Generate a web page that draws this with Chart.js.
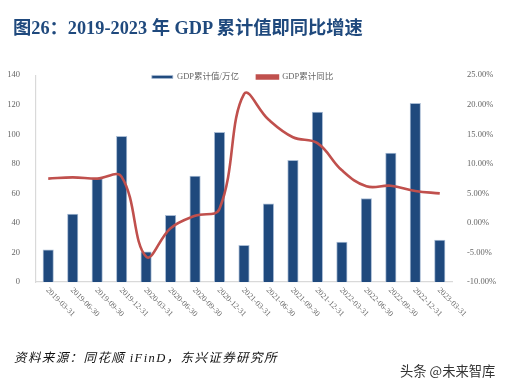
<!DOCTYPE html>
<html>
<head>
<meta charset="utf-8">
<script src="https://cdn.jsdelivr.net/npm/chart.js@4/dist/chart.umd.min.js"></script>
<style>
  html, body { margin: 0; padding: 0; background: #fff; }
  #wrap { position: relative; width: 505px; height: 388px; overflow: hidden; }
  canvas { position: absolute; left: 0; top: 0; }
  .txt { position: absolute; white-space: nowrap; }
  #title { left: 13px; top: 13px; font: bold 18.3px "Liberation Serif", "Noto Sans CJK SC", serif; color: #1f497d; }
  #source { left: 14px; top: 347px; font: italic 12.5px "Liberation Serif", "Noto Sans CJK SC", serif; letter-spacing: 1.4px; color: #111; }
  #mark { left: 400px; top: 361px; font: 13.3px "Noto Sans CJK SC", sans-serif; color: #333; }
</style>
</head>
<body>
<div id="wrap">
  <canvas id="chart" width="505" height="388"></canvas>
  <div class="txt" id="title">图26：2019-2023 年 GDP 累计值即同比增速</div>
  <div class="txt" id="source">资料来源：同花顺 iFinD，东兴证券研究所</div>
  <div class="txt" id="mark">头条 @未来智库</div>
</div>
<script>
const labels = ["2019-03-31", "2019-06-30", "2019-09-30", "2019-12-31", "2020-03-31", "2020-06-30",
  "2020-09-30", "2020-12-31", "2021-03-31", "2021-06-30", "2021-09-30", "2021-12-31",
  "2022-03-31", "2022-06-30", "2022-09-30", "2022-12-31", "2023-03-31"];
const gdpTotal = [21.7, 46, 70, 98.7, 20.5, 45.2, 71.7, 101.3, 24.8, 53, 82.3, 115, 27, 56.5, 87.3, 121, 28.3];
const gdpYoy = [7.5, 7.7, 7.5, 7.8, -5.7, -0.9, 1.2, 2.4, 21.8, 17.5, 14.5, 13.5, 8.9, 6.2, 6.3, 5.4, 5.0];

const tickFont = { family: '"Liberation Serif", serif', size: 8.5 };
const grey = "#666";

// x labels run downwards to the right, chart.js only rotates the other way
const slantLabels = {
  id: "slantLabels",
  afterLayout(chart) {
    // legend sits inside the plot in the reference
    chart.legend.top += 16;
    chart.legend.bottom += 16;
    chart.legend.left -= 10;
    chart.legend.right -= 10;
  },
  afterDraw(chart) {
    const ctx = chart.ctx;
    const x = chart.scales.x;
    ctx.save();
    ctx.font = '8px "Liberation Serif", serif';
    ctx.fillStyle = grey;
    ctx.textAlign = "left";
    ctx.textBaseline = "middle";
    labels.forEach((l, i) => {
      ctx.save();
      ctx.translate(x.getPixelForTick(i) - 1, x.top + 7);
      ctx.rotate(Math.PI / 4);
      ctx.fillText(l, 0, 0);
      ctx.restore();
    });
    ctx.restore();
  }
};

new Chart(document.getElementById("chart"), {
  data: {
    labels: labels,
    datasets: [
      {
        type: "line",
        label: "GDP累计同比",
        data: gdpYoy,
        yAxisID: "y1",
        borderColor: "#c0504d",
        backgroundColor: "#c0504d",
        borderWidth: 2.6,
        pointRadius: 0,
        tension: 0.4,
        order: 1
      },
      {
        type: "bar",
        label: "GDP累计值/万亿",
        data: gdpTotal,
        yAxisID: "y",
        backgroundColor: "#1f497d",
        borderColor: "#a9bcd4",
        borderWidth: { left: 1, right: 1, top: 1, bottom: 0 },
        barThickness: 10.5,
        order: 2
      }
    ]
  },
  options: {
    responsive: false,
    animation: false,
    layout: { padding: { top: 38.7, left: 0, right: 0, bottom: 0 } },
    plugins: {
      tooltip: { enabled: false },
      legend: {
        position: "top",
        reverse: true,
        labels: {
          boxWidth: 21,
          boxHeight: 3,
          padding: 18,
          color: grey,
          font: { family: '"Liberation Serif", "Noto Sans CJK SC", serif', size: 8.5 }
        }
      }
    },
    scales: {
      x: {
        grid: { display: false },
        border: { color: "#d9d9d9", width: 1.2 },
        ticks: { display: false },
        afterFit(s) { s.height = 106; }
      },
      y: {
        position: "left",
        min: 0,
        max: 140,
        grid: { display: false },
        border: { color: "#d9d9d9", width: 1.2 },
        ticks: { stepSize: 20, color: grey, font: tickFont, padding: 8 },
        afterFit(s) { s.width = 36; }
      },
      y1: {
        position: "right",
        min: -10,
        max: 25,
        grid: { display: false },
        border: { display: false },
        ticks: {
          stepSize: 5,
          color: grey,
          font: tickFont,
          padding: 7,
          callback: v => v.toFixed(2) + "%"
        },
        afterFit(s) { s.width = 53; }
      }
    }
  },
  plugins: [slantLabels]
});
</script>
</body>
</html>
